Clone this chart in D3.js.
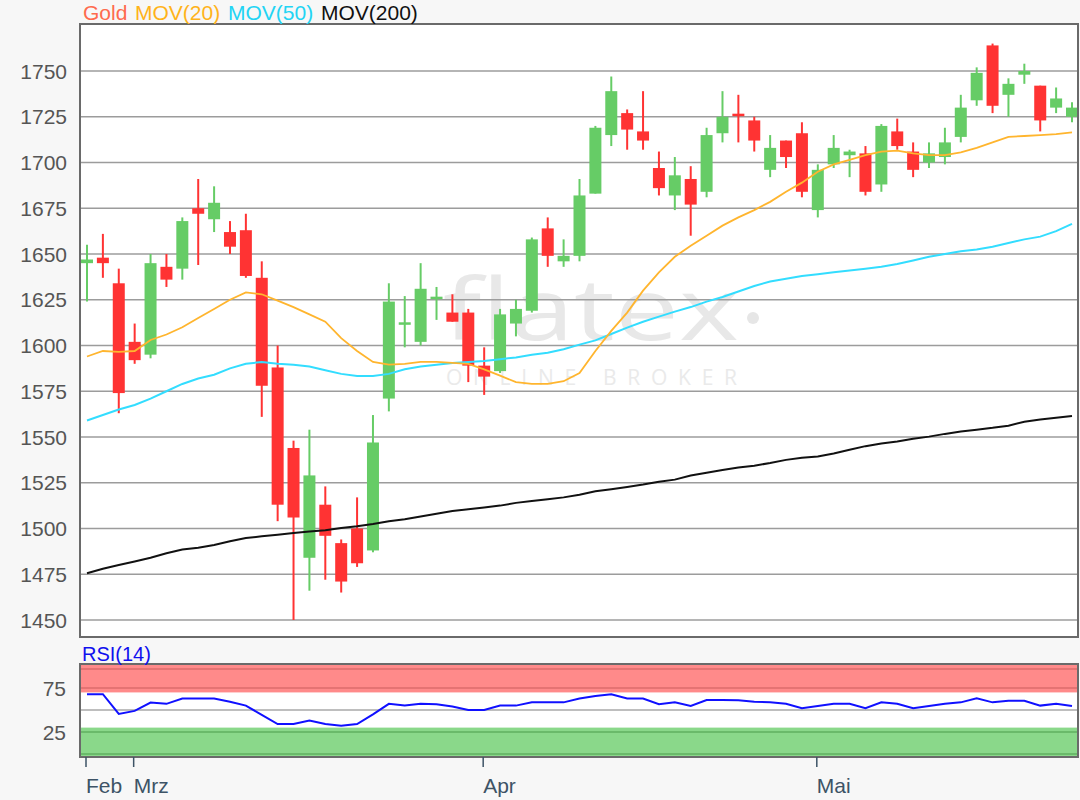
<!DOCTYPE html>
<html><head><meta charset="utf-8">
<script src="https://cdn.jsdelivr.net/npm/d3@7"></script>
<style>
body{margin:0;background:#f7f7f7;}
svg{display:block;font-family:"Liberation Sans",Arial,sans-serif;}
</style>
</head><body>
<svg id="c" width="1080" height="800"></svg>
<script>
// ---------- data ----------
const dates = ["26.02","27.02","28.02","02.03","03.03","04.03","05.03","06.03","09.03","10.03","11.03","12.03","13.03",
"16.03","17.03","18.03","19.03","20.03","23.03","24.03","25.03","26.03","27.03","30.03","31.03",
"01.04","02.04","03.04","06.04","07.04","08.04","09.04","13.04","14.04","15.04","16.04","17.04","20.04","21.04","22.04","23.04","24.04","27.04","28.04","29.04","30.04",
"01.05","04.05","05.05","06.05","07.05","08.05","11.05","12.05","13.05","14.05","15.05","18.05","19.05","20.05","21.05","22.05","26.05"];
const open  = [1645,1648,1634,1602,1595,1643,1642,1675,1669,1662,1663,1637,1588,1544,1484,1513,1492,1500,1488,1571,1611,1602,1625,1618,1618,1589,1586,1612,1619,1664,1646,1649,1683,1715,1727,1717,1697,1682,1691,1684,1716,1726,1723,1696,1712,1716,1674,1699,1704,1705,1688,1717,1706,1700,1703,1714,1734,1764,1737,1748,1742,1730,1725];
const high  = [1655,1661,1642,1612,1650,1650,1670,1691,1687,1668,1672,1646,1600,1548,1554,1523,1494,1517,1562,1634,1627,1645,1632,1628,1620,1599,1620,1625,1659,1670,1658,1691,1720,1747,1729,1739,1706,1703,1698,1719,1739,1737,1725,1715,1712,1722,1699,1715,1707,1709,1721,1724,1711,1711,1719,1737,1752,1765,1746,1754,1742,1741,1733];
const low   = [1624,1637,1563,1590,1593,1632,1636,1644,1662,1650,1637,1561,1504,1450,1466,1472,1465,1479,1487,1564,1599,1600,1614,1613,1580,1573,1585,1605,1618,1643,1643,1646,1683,1709,1707,1707,1682,1674,1660,1681,1711,1711,1706,1692,1697,1681,1670,1697,1692,1682,1684,1707,1692,1697,1699,1711,1731,1727,1725,1743,1717,1727,1722];
const close = [1647,1645,1574,1592,1645,1636,1668,1672,1678,1654,1638,1578,1513,1506,1529,1496,1471,1481,1547,1624,1612,1631,1626,1613,1589,1583,1617,1620,1658,1649,1649,1682,1719,1739,1718,1712,1686,1693,1677,1715,1725,1725,1712,1708,1703,1684,1696,1708,1706,1684,1720,1709,1696,1705,1711,1730,1749,1731,1743,1750,1723,1735,1730];
const mov20 = [1594,1597,1596.5,1597,1603,1606,1610,1615,1620,1625,1629,1628,1624.5,1621,1617,1613,1604,1597,1591,1589.5,1590,1591,1591,1590.5,1590,1587,1583.5,1580,1579,1579,1580.5,1585,1597,1608,1618,1630,1640,1648.5,1654.5,1660,1665.5,1670,1674,1678.5,1684,1689,1695,1699,1701.5,1704,1706,1706.5,1705,1704,1704,1705.5,1708,1711,1714,1714.5,1715,1715.5,1716.5];
const mov50 = [1559,1562,1565,1567.5,1571,1575,1579,1582,1584,1587.5,1590,1591,1590,1589.5,1588.5,1586.5,1584.5,1583.3,1583.3,1584.5,1587,1588.5,1589.5,1590.5,1591,1591.5,1592.5,1593.5,1595,1596,1598,1600.5,1602.8,1606.3,1609.8,1613,1615.8,1618.5,1621,1624,1626.5,1629.5,1632.5,1635,1636.5,1638,1639,1640,1641,1642,1643,1644.5,1646.5,1648.5,1650,1651.5,1652.5,1654,1656,1658,1659.5,1662.5,1666.5];
const mov200 = [1475.5,1478,1480,1482,1484,1486.5,1488.5,1489.5,1491,1493,1494.8,1495.7,1496.6,1497.5,1498.3,1499,1500.3,1501.2,1502.5,1504,1505,1506.5,1508,1509.5,1510.5,1511.5,1512.5,1514,1515,1516,1517,1518.4,1520.3,1521.5,1522.7,1524,1525.5,1526.7,1529,1530.5,1532,1533.3,1534.3,1535.8,1537.5,1538.6,1539.4,1541,1543,1545,1546.5,1547.5,1549,1550.2,1551.7,1553,1554,1555,1556.2,1558.3,1559.5,1560.5,1561.5];
const rsi = [68,68,45.5,49,58.5,57,63,63,63,59.5,55,44.5,34,34,38,34,32,34,45,57,55,57,56.5,54,50,50,55,55,58.7,58.7,58.7,63,66,68,63,63,56.5,58.7,54.5,61.4,61.4,61,59.5,58.7,57,52,54.5,57,57,52,58.7,57,52,54.5,57,58.7,63.3,58.7,60.6,60.6,55,57,54.5];
const priceTicks = [1450,1475,1500,1525,1550,1575,1600,1625,1650,1675,1700,1725,1750];
const rsiTicks = [25,75];
const monthIndex = [0,3,25,46];
const monthLabels = ["Feb","Mrz","Apr","Mai"];
const legendLabels = ["Gold","MOV(20)","MOV(50)","MOV(200)"];
const legendColors = ["#ff6a4d","#ffb31a","#22d4f4","#111"];

// ---------- layout ----------
const svg = d3.select("#c");
const L = 80, R = 1078, T = 24, B = 637;
const RT = 664, RB = 757;
const n = dates.length;
const x = d3.scaleLinear().domain([0, n-1]).range([87, 1072]);
const y = d3.scaleLinear().domain([1440.7, 1775.7]).range([B, T]);
const yr = d3.scaleLinear().domain([-3.4, 102.3]).range([RB, RT]);

// main panel background
svg.append("rect").attr("x",L).attr("y",T).attr("width",R-L).attr("height",B-T).attr("fill","#fff");

// watermark
svg.append("text").attr("x",443).attr("y",340).attr("font-size",86).attr("font-family","'Open Sans',sans-serif")
  .attr("font-weight",400).attr("fill","#e8e8e8").attr("textLength",296).attr("lengthAdjust","spacingAndGlyphs").text("flatex");
svg.append("circle").attr("cx",753).attr("cy",318).attr("r",6).attr("fill","#e6e6e6");
svg.append("text").attr("x",446).attr("y",385).attr("font-size",21).attr("font-family","'Open Sans',sans-serif")
  .attr("fill","#eaeaea").attr("textLength",291).attr("lengthAdjust","spacing").text("ONLINE BROKER");

// gridlines
svg.append("g").selectAll("line").data(priceTicks).join("line")
  .attr("x1",L).attr("x2",R).attr("y1",d=>y(d)).attr("y2",d=>y(d))
  .attr("stroke","#9c9c9c").attr("stroke-width",1.6);

// y labels
svg.append("g").selectAll("text").data(priceTicks).join("text")
  .attr("x",67).attr("y",d=>y(d)).attr("dy","0.36em").attr("text-anchor","end")
  .attr("font-size",21).attr("fill","#555").text(d=>d);

// candles
const idx = d3.range(n);
const cg = svg.append("g");
const col = i => close[i] >= open[i] ? "#66cc66" : "#ff3333";
cg.selectAll("line").data(idx).join("line")
  .attr("x1",i=>x(i)).attr("x2",i=>x(i)).attr("y1",i=>y(high[i])).attr("y2",i=>y(low[i]))
  .attr("stroke",col).attr("stroke-width",2);
const bw = 12;
cg.selectAll("rect").data(idx).join("rect")
  .attr("x",i=>x(i)-bw/2).attr("width",bw)
  .attr("y",i=>Math.min(y(open[i]),y(close[i])) - (Math.abs(y(open[i])-y(close[i]))<2.5?1.25:0))
  .attr("height",i=>Math.max(2.5,Math.abs(y(open[i])-y(close[i]))))
  .attr("fill",col);

// moving averages
const line = d3.line().x((d,i)=>x(i)).y(d=>y(d)).curve(d3.curveLinear);
svg.append("path").attr("d",line(mov200)).attr("fill","none").attr("stroke","#111").attr("stroke-width",2);
svg.append("path").attr("d",line(mov50)).attr("fill","none").attr("stroke","#33ddff").attr("stroke-width",2);
svg.append("path").attr("d",line(mov20)).attr("fill","none").attr("stroke","#ffb52e").attr("stroke-width",1.8);

// main border
svg.append("rect").attr("x",L).attr("y",T).attr("width",R-L).attr("height",B-T)
  .attr("fill","none").attr("stroke","#6a6a6a").attr("stroke-width",2);

// legend
const legendX = [83,135,228,321];
svg.append("g").selectAll("text").data(legendLabels).join("text")
  .attr("x",(d,k)=>legendX[k]).attr("y",20).attr("font-size",21)
  .attr("fill",(d,k)=>legendColors[k]).text(d=>d);

// ---------- RSI panel ----------
svg.append("rect").attr("x",L).attr("y",RT).attr("width",R-L).attr("height",RB-RT).attr("fill","#fff");
svg.append("rect").attr("x",L).attr("y",RT).attr("width",R-L).attr("height",yr(70)-RT).attr("fill","#ff8a8a");
svg.append("rect").attr("x",L).attr("y",yr(30)).attr("width",R-L).attr("height",RB-yr(30)).attr("fill","#8ad88a");
[[96.5,"#dd6b6b"],[75,"#dd6b6b"],[25,"#5fb05f"],[0,"#5fb05f"]].forEach(([v,c])=>{
  svg.append("line").attr("x1",L).attr("x2",R).attr("y1",yr(v)).attr("y2",yr(v)).attr("stroke",c).attr("stroke-width",1.5);
});
svg.append("line").attr("x1",L).attr("x2",R).attr("y1",yr(50)).attr("y2",yr(50)).attr("stroke","#a8a8a8").attr("stroke-width",1.6);
svg.append("path").attr("d",d3.line().x((d,i)=>x(i)).y(d=>yr(d))(rsi)).attr("fill","none").attr("stroke","#1010ff").attr("stroke-width",2);
svg.append("rect").attr("x",L).attr("y",RT).attr("width",R-L).attr("height",RB-RT)
  .attr("fill","none").attr("stroke","#6a6a6a").attr("stroke-width",2);
svg.append("g").selectAll("text").data(rsiTicks).join("text")
  .attr("x",66).attr("y",d=>yr(d)).attr("dy","0.36em").attr("text-anchor","end")
  .attr("font-size",21).attr("fill","#555").text(d=>d);
svg.append("text").attr("x",82).attr("y",661).attr("font-size",20).attr("fill","#1010ee").text("RSI(14)");

// x axis ticks
const xg = svg.append("g");
xg.selectAll("line").data(monthIndex).join("line")
  .attr("x1",i=>x(i)-1).attr("x2",i=>x(i)-1).attr("y1",RB).attr("y2",RB+10)
  .attr("stroke","#3d5366").attr("stroke-width",1.5);
xg.selectAll("text").data(monthIndex).join("text")
  .attr("x",i=>x(i)-1).attr("y",793).attr("font-size",21).attr("fill","#3d5366")
  .text((d,k)=>monthLabels[k]);
</script>
</body></html>
